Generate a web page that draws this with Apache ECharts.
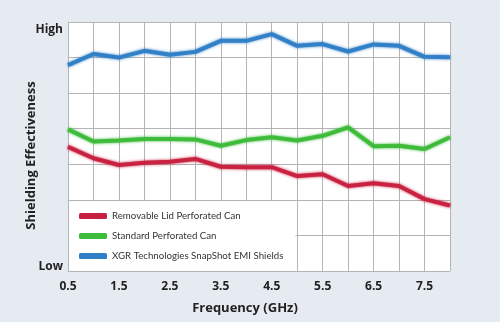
<!DOCTYPE html>
<html>
<head>
<meta charset="utf-8">
<script src="https://cdn.jsdelivr.net/npm/echarts@6/dist/echarts.min.js"></script>
<style>
html,body{margin:0;padding:0;background:#e6ebf1;}
#c{width:500px;height:322px;}
</style>
</head>
<body>
<div id="c"></div>
<script>
// Data (y scale: 0 = Low, 7 = High)
var frequencies = [0.5,1.0,1.5,2.0,2.5,3.0,3.5,4.0,4.5,5.0,5.5,6.0,6.5,7.0,7.5,8.0];
var removableLid = [3.49,3.17,2.98,3.04,3.07,3.15,2.93,2.92,2.92,2.67,2.72,2.39,2.47,2.39,2.02,1.84];
var standardCan  = [3.98,3.64,3.67,3.71,3.71,3.70,3.52,3.68,3.76,3.67,3.80,4.04,3.51,3.52,3.43,3.76];
var snapShot     = [5.79,6.10,6.00,6.19,6.08,6.16,6.47,6.47,6.66,6.33,6.38,6.17,6.37,6.33,6.02,6.01];
var seriesNames = ['Removable Lid Perforated Can','Standard Perforated Can','XGR Technologies SnapShot EMI Shields'];
var xTickLabels = ['0.5','1.5','2.5','3.5','4.5','5.5','6.5','7.5'];
var yMinLabel = 'Low', yMaxLabel = 'High';

function pairs(vals){ return frequencies.map(function(f,i){ return [f, vals[i]]; }); }
var colors = ['#c8203f','#3dbb3a','#2f7ec6'];
var font = '"Open Sans", sans-serif';

function mk(name, vals, color){
  return {
    name: name, type: 'line', data: pairs(vals), symbol: 'none', smooth: false,
    lineStyle: { width: 4, color: color, shadowColor: color, shadowBlur: 3, opacity: 0.95 },
    itemStyle: { color: color }
  };
}

var chart = echarts.init(document.getElementById('c'), null, {renderer:'canvas'});
chart.setOption({
  backgroundColor: '#e6ebf1',
  animation: false,
  grid: { left: 68, top: 22, right: 50, bottom: 51, show: true, backgroundColor: '#ffffff', borderWidth: 0 },
  legend: {
    orient: 'vertical', left: 69, top: 201,
    backgroundColor: '#ffffff',
    padding: [8, 12, 8, 10],
    itemWidth: 28, itemHeight: 6, itemGap: 6,
    icon: 'roundRect',
    textStyle: { fontFamily: 'Lato, sans-serif', fontSize: 9.7, color: '#333', lineHeight: 14 },
    data: seriesNames
  },
  xAxis: {
    type: 'value', min: 0.5, max: 8, interval: 0.5,
    name: 'Frequency (GHz)', nameLocation: 'middle', nameGap: 31, nameMoveOverlap: false,
    nameTextStyle: { fontFamily: font, fontSize: 13, fontWeight: 'bold', color: '#222', padding: [0, 28, 0, 0] },
    axisLine: { show: false }, axisTick: { show: false },
    axisLabel: {
      margin: 10, fontFamily: font, fontSize: 12, fontWeight: 'bold', color: '#222',
      formatter: function(v){ var s = v.toFixed(1); return xTickLabels.indexOf(s) >= 0 ? s : ''; }
    },
    splitLine: { show: true, lineStyle: { color: '#b4b4b4', width: 1 } }
  },
  yAxis: {
    type: 'value', min: 0, max: 7, interval: 1,
    name: 'Shielding Effectiveness', nameLocation: 'middle', nameGap: 30, nameMoveOverlap: false,
    nameTextStyle: { fontFamily: font, fontSize: 13, fontWeight: 'bold', color: '#222', padding: [0, 18, 0, 0] },
    axisLine: { show: false }, axisTick: { show: false },
    axisLabel: {
      margin: 5, fontFamily: font, fontSize: 12, fontWeight: 'bold', color: '#222',
      formatter: function(v){ if (v === 7) return '{hi|' + yMaxLabel + '}'; if (v === 0) return '{lo|' + yMinLabel + '}'; return ''; },
      rich: {
        hi: { fontFamily: font, fontSize: 12, fontWeight: 'bold', color: '#222', padding: [15, 0, 0, 0] },
        lo: { fontFamily: font, fontSize: 12, fontWeight: 'bold', color: '#222', padding: [0, 0, 9, 0] }
      }
    },
    splitLine: { show: true, lineStyle: { color: '#b4b4b4', width: 1 } }
  },
  series: [
    mk(seriesNames[0], removableLid, colors[0]),
    mk(seriesNames[1], standardCan, colors[1]),
    mk(seriesNames[2], snapShot, colors[2])
  ]
});
</script>
</body>
</html>
